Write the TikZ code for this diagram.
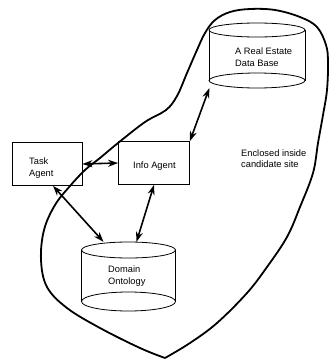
\documentclass[tikz,border=0pt]{standalone}
\usepackage{fontspec}
\setmainfont{Liberation Sans}
\usetikzlibrary{arrows.meta}
\begin{document}
\begin{tikzpicture}[x=1pt,y=-1pt,
  box/.style={draw,line width=0.8pt,minimum width=70pt,minimum height=43pt,inner sep=0pt},
  cyl/.style={inner sep=0pt,minimum width=95pt},
  lbl/.style={font=\fontsize{9.3}{11.5}\selectfont,align=left,inner sep=0pt,anchor=west},
  link/.style={line width=1.6pt,{Stealth[length=10pt,width=7pt]}-{Stealth[length=10pt,width=7pt]}},
  thin/.style={line width=0.8pt}]
\useasboundingbox (0,0) rectangle (329,360);
% boxes
\node[box] (task) at (47,164) {};
\node[box,minimum width=71pt] (info) at (154,163) {};
\node[lbl] (tasktxt) at (29,168) {Task\\Agent};
\node[lbl] (infotxt) at (133,166) {Info Agent};
% real estate cylinder
\node[cyl,minimum height=65pt] (re) at (257,55.5) {};
\draw[thin] (257,30) ellipse [x radius=48, y radius=7];
\draw[thin] (257,80.5) ellipse [x radius=48, y radius=7.5];
\draw[thin] (209,30) -- (209,80.5) (305,30) -- (305,80.5);
\node[lbl] (retxt) at (235,57) {A Real Estate\\Data Base};
% domain cylinder
\node[cyl,minimum height=69pt] (dom) at (128.5,276.5) {};
\draw[thin] (128.5,250) ellipse [x radius=47, y radius=8];
\draw[thin] (128.5,301.5) ellipse [x radius=47, y radius=9.5];
\draw[thin] (81.5,250) -- (81.5,301.5) (175.5,250) -- (175.5,301.5);
\node[lbl] (domtxt) at (108,276) {Domain\\Ontology};
% enclosed text
\node[lbl] (enc) at (241,158.5) {Enclosed inside\\candidate site};
% blob
\draw[line width=1.8pt,line join=round] plot[smooth,tension=0.6] coordinates {
(165,358) (140,348) (100,328) (67,308) (47,287) (41,260) (44,230) (55,205) (70,186)
(85,170) (100,158) (118,143) (145,122) (166,110) (177,96) (187,73) (197,50) (205,33)
(215,20) (230,12) (250,9) (275,10) (300,17) (317,27) (326,45) (328,62) (327,90)
(323,115) (318,143) (313,173) (300,207) (287,237) (267,267) (247,293) (217,323)
(190,343) (165,358)};
% links
\draw[link] (task.east) -- (info.west);
\draw[link] (info.north east) -- (re.south west);
\draw[link] (info.south) -- ([xshift=8pt]dom.north);
\draw[link] ([xshift=6pt]task.south) -- ([xshift=-25pt]dom.north);
\end{tikzpicture}
\end{document}
